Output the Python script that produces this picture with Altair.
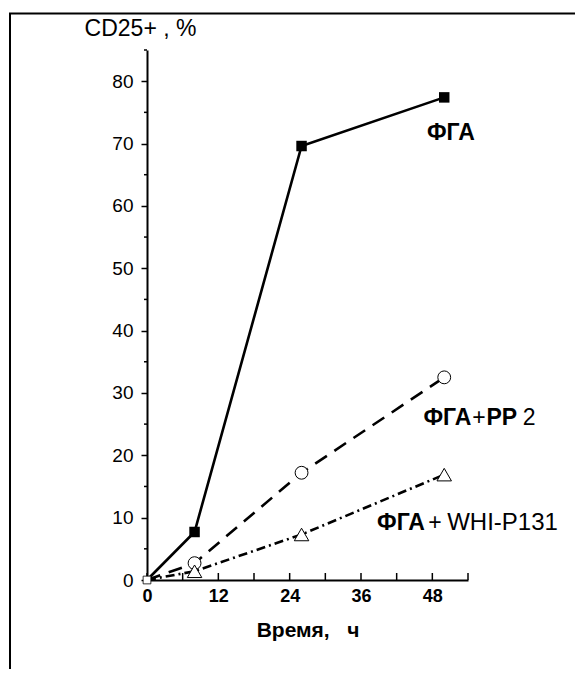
import altair as alt
import pandas as pd

# ---- data ----
time_h = [0, 8, 26, 50]
fga = [0, 7.7, 69.6, 77.4]
fga_pp2 = [0, 2.7, 17.2, 32.5]
fga_whi = [0, 1.4, 7.3, 16.9]

y_major = [0, 10, 20, 30, 40, 50, 60, 70, 80]
y_minor = [5, 15, 25, 35, 45, 55, 65, 75, 85]
x_ticks = [0, 6, 12, 18, 24, 30, 36, 42, 48, 54]
x_labels = [0, 12, 24, 36, 48]

# annotation pieces (text, anchor time, anchor value, bold?, size)
ann_text = ["ФГА", "ФГА", "+", "PP", "2", "ФГА", "+", "WHI-P131"]
ann_time = [47.1, 46.5, 54.7, 57.1, 63.2, 38.7, 47.3, 50.5]
ann_value = [71.7, 26.0, 26.0, 26.0, 26.0, 9.2, 9.2, 9.2]
ann_bold = [True, True, False, True, False, True, False, False]
ann_size = [23, 23, 23, 23, 23, 23, 23, 24]

FONT = "Liberation Sans"
W, H = 321, 530
PAD = {"left": 139, "top": 42, "right": 107, "bottom": 89}

df = pd.DataFrame({
    "time": time_h * 3,
    "value": fga + fga_pp2 + fga_whi,
    "series": ["ФГА"] * 4 + ["ФГА+PP2"] * 4 + ["ФГА+WHI-P131"] * 4,
})

xs = alt.Scale(domain=[0, 54], nice=False, zero=False)
ys = alt.Scale(domain=[0, 85], nice=False, zero=False)

x_axis = alt.Axis(
    values=x_labels, ticks=False, grid=False, domainWidth=2, domainColor="black",
    labelFont=FONT, labelFontWeight="bold", labelFontSize=18, labelColor="black",
    labelPadding=7, labelFlush=False, labelOverlap=False,
    title="Время,\u00a0\u00a0\u00a0ч", titleFont=FONT, titleFontSize=21,
    titleFontWeight="bold", titleColor="black", titlePadding=14,
)
y_axis = alt.Axis(
    values=y_major, tickSize=6, tickWidth=1.5, tickColor="black", grid=False,
    domainWidth=2, domainColor="black",
    labelFont=FONT, labelFontSize=19, labelColor="black", labelPadding=8,
    labelFlush=False, labelOverlap=False,
    title="CD25+\u00a0,\u00a0%", titleFont=FONT, titleFontSize=23,
    titleFontWeight="normal",
    titleColor="black", titleAngle=0, titleX=-7, titleY=-22,
    titleAlign="center", titleBaseline="middle",
)

X = alt.X("time:Q", scale=xs, axis=x_axis)
Y = alt.Y("value:Q", scale=ys, axis=y_axis)

base = alt.Chart(df)

line_fga = base.transform_filter(alt.datum.series == "ФГА").mark_line(
    color="black", strokeWidth=2.6).encode(x=X, y=Y)
line_pp2 = base.transform_filter(alt.datum.series == "ФГА+PP2").mark_line(
    color="black", strokeWidth=2.6, strokeDash=[14, 9]).encode(x=X, y=Y)
line_whi = base.transform_filter(alt.datum.series == "ФГА+WHI-P131").mark_line(
    color="black", strokeWidth=2.6, strokeDash=[9, 4, 2, 4]).encode(x=X, y=Y)

pts_fga = base.transform_filter(
    (alt.datum.series == "ФГА") & (alt.datum.time > 0)).mark_point(
    shape="square", filled=True, color="black", size=110, opacity=1).encode(x=X, y=Y)
pts_origin = base.transform_filter(
    (alt.datum.series == "ФГА") & (alt.datum.time == 0)).mark_point(
    shape="square", filled=True, color="white", stroke="black", strokeWidth=0.8,
    size=60, opacity=1).encode(x=X, y=Y)
pts_pp2 = base.transform_filter(
    (alt.datum.series == "ФГА+PP2") & (alt.datum.time > 0)).mark_point(
    shape="circle", filled=True, color="white", stroke="black", strokeWidth=1,
    size=165, opacity=1).encode(x=X, y=Y)
pts_whi = base.transform_filter(
    (alt.datum.series == "ФГА+WHI-P131") & (alt.datum.time > 0)).mark_point(
    shape="triangle-up", filled=True, color="white", stroke="black", strokeWidth=1,
    size=210, opacity=1).encode(x=X, y=Y)

minor_df = pd.DataFrame({"value": y_minor})
minor = alt.Chart(minor_df).mark_rule(color="black", strokeWidth=1.5).encode(
    y=Y, x=alt.value(-3), x2=alt.value(0))

xt_df = pd.DataFrame({"time": x_ticks})
xticks = alt.Chart(xt_df).mark_rule(color="black", strokeWidth=1.5).encode(
    x=X, y=alt.value(H), y2=alt.value(H - 7))

ann_df = pd.DataFrame({"text": ann_text, "time": ann_time, "value": ann_value,
                       "bold": ann_bold, "size": ann_size})
ann_b = alt.Chart(ann_df).transform_filter(alt.datum.bold).mark_text(
    font=FONT, fontWeight="bold", align="left", baseline="middle",
    color="black").encode(x=X, y=Y, text="text:N",
                          size=alt.Size("size:Q", scale=None, legend=None))
ann_n = alt.Chart(ann_df).transform_filter(~alt.datum.bold).mark_text(
    font=FONT, fontWeight="normal", align="left", baseline="middle",
    color="black").encode(x=X, y=Y, text="text:N",
                          size=alt.Size("size:Q", scale=None, legend=None))

frame_df = pd.DataFrame({"d": [0]})
frame_left = alt.Chart(frame_df).mark_rule(color="black", strokeWidth=2).encode(
    x=alt.value(-137), y=alt.value(-37), y2=alt.value(H + PAD["bottom"] + 2))
frame_top = alt.Chart(frame_df).mark_rule(color="black", strokeWidth=2).encode(
    y=alt.value(-36.5), x=alt.value(-138), x2=alt.value(W + PAD["right"] + 2))

chart = alt.layer(
    line_fga, line_pp2, line_whi, minor, xticks,
    pts_origin, pts_fga, pts_pp2, pts_whi, ann_b, ann_n, frame_left, frame_top,
).properties(
    width=W, height=H,
    autosize=alt.AutoSizeParams(type="none"),
    padding=PAD,
    background="white",
).configure_view(strokeOpacity=0)

chart.save("out.html", embed_options={"renderer": "svg", "actions": False})
